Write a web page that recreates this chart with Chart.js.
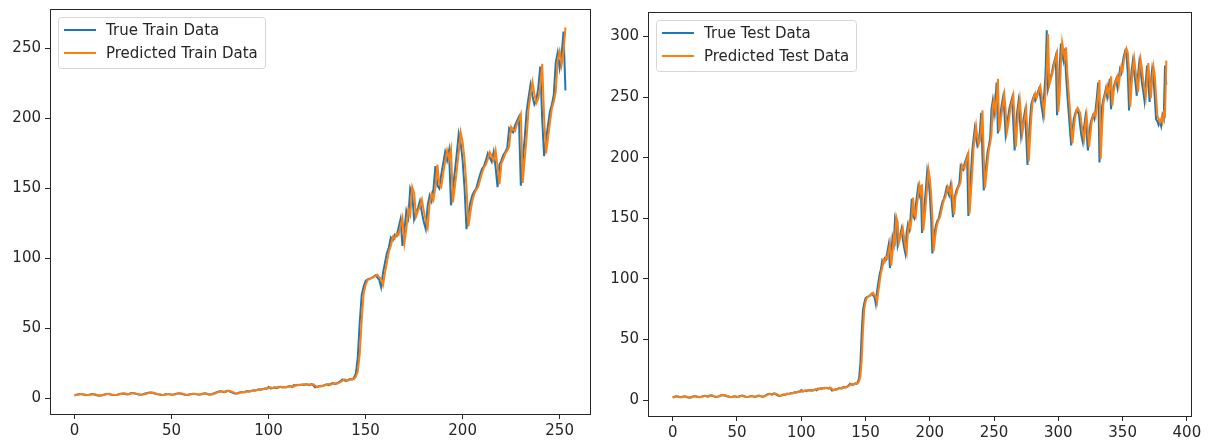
<!DOCTYPE html>
<html>
<head>
<meta charset="utf-8">
<script src="https://cdn.jsdelivr.net/npm/chart.js@4.4.1/dist/chart.umd.min.js"></script>
<style>
    html, body { margin: 0; padding: 0; background: #fff; }
    canvas { position: absolute; top: 0; }
    #trainCanvas { left: 0; }
    #testCanvas { left: 604px; }
</style>
</head>
<body>
<canvas id="trainCanvas" width="604" height="442"></canvas>
<canvas id="testCanvas" width="604" height="442"></canvas>
<script>
// flat start, index 0..145
const TRUE_FLAT = [
    2.4, 2.8, 3.1, 3.3, 3.0, 2.7, 2.5, 2.6, 2.9, 3.2,
    3.0, 2.6, 2.2, 2.1, 2.4, 2.8, 3.2, 3.4, 3.1, 2.8,
    2.6, 2.5, 2.8, 3.2, 3.5, 3.7, 3.4, 3.0, 3.3, 3.9,
    4.0, 3.6, 3.2, 2.9, 2.7, 3.0, 3.4, 3.8, 4.1, 4.3,
    4.2, 3.7, 3.3, 3.0, 2.8, 2.5, 2.7, 3.1, 3.3, 3.0,
    2.7, 2.9, 3.3, 3.6, 3.8, 3.5, 3.1, 2.8, 2.6, 2.9,
    3.2, 3.5, 3.3, 3.0, 2.8, 3.1, 3.5, 3.8, 3.4, 3.0,
    2.9, 3.3, 3.8, 4.4, 4.9, 5.3, 5.0, 4.6, 5.2, 5.6,
    5.1, 4.5, 3.9, 3.5, 3.8, 4.3, 4.7, 4.4, 4.9, 5.4,
    5.0, 5.5, 6.0, 5.7, 6.2, 6.6, 6.3, 6.9, 7.2, 7.0,
    8.3, 7.2, 7.6, 8.0, 7.5, 8.1, 8.4, 7.9, 8.3, 8.0,
    8.6, 9.0, 8.2, 9.6, 9.3, 9.8, 9.5, 10.1, 9.7, 10.2,
    10.0, 9.6, 10.3, 9.4, 8.0, 8.4, 9.0, 8.7, 9.3, 9.8,
    10.2, 9.6, 10.5, 11.0, 10.4, 10.8, 11.5, 12.3, 13.6, 13.0,
    12.6, 13.4, 14.0, 13.5, 15.0, 18.0,
];

// jump and climb, index 146..253 (end of train set)
const TRUE_RISE = [
    30, 55, 74, 80,
    84, 85, 85.5, 86, 87, 88, 86.5, 85, 79.5, 90,
    97, 104, 108, 115, 113, 117, 116, 122, 128, 109,
    120, 134, 129, 150, 146, 128, 133, 136, 141, 133,
    126, 121, 138, 145, 141, 150, 166, 152, 150, 160,
    168, 176, 170, 177, 138, 150, 162, 175, 189, 182,
    170, 150, 121, 132, 140, 145, 148, 150, 155, 160,
    164, 166, 170, 175, 172, 169, 176, 165, 151, 167,
    170, 174, 176, 179, 193, 191, 190, 195, 198, 201,
    152, 170, 186, 205, 215, 224, 216, 210, 213, 222,
    237, 200, 173, 185, 195, 205, 210, 217, 240, 247,
    236, 245, 262, 220,
];

// test only, index 254..384
const TRUE_TAIL = [
    228, 236, 244, 250, 238, 219, 226, 234, 241, 245,
    249, 228, 206, 225, 238, 246, 232, 218, 226, 232,
    238, 218, 194, 215, 232, 244, 248, 251, 247, 250,
    254, 257, 250, 242, 235, 252, 268, 305, 257, 262,
    266, 270, 276, 280, 284, 235, 250, 275, 294, 285,
    280, 290, 268, 252, 238, 224, 210, 222, 232, 236,
    239, 238, 236, 226, 218, 213, 225, 233, 220, 206,
    218, 228, 232, 235, 232, 240, 250, 262, 196, 222,
    242, 248, 252, 257, 250, 256, 265, 240, 252, 258,
    262, 265, 258, 266, 273, 270, 278, 284, 288, 285,
    270, 239, 258, 272, 280, 270, 262, 251, 268, 279,
    272, 262, 255, 247, 262, 276, 262, 246, 262, 273,
    266, 250, 232, 230, 227, 230, 226, 235, 232, 276,
    260,
];

const PRED_FLAT = [
    2.3, 2.5, 2.9, 3.2, 3.3, 3.0, 2.7, 2.5, 2.7, 3.0,
    3.2, 2.9, 2.5, 2.2, 2.2, 2.5, 2.9, 3.3, 3.4, 3.0,
    2.8, 2.6, 2.6, 2.9, 3.3, 3.6, 3.7, 3.3, 3.1, 3.4,
    3.9, 3.9, 3.5, 3.2, 2.9, 2.8, 3.1, 3.5, 3.9, 4.2,
    4.3, 4.1, 3.6, 3.2, 3.0, 2.7, 2.6, 2.9, 3.2, 3.2,
    2.9, 2.8, 3.0, 3.4, 3.7, 3.7, 3.4, 3.0, 2.7, 2.7,
    3.0, 3.3, 3.5, 3.2, 2.9, 3.0, 3.3, 3.7, 3.7, 3.2,
    3.0, 3.0, 3.5, 4.0, 4.6, 5.0, 5.3, 4.9, 4.8, 5.4,
    5.6, 5.0, 4.4, 3.8, 3.6, 4.0, 4.5, 4.7, 4.6, 5.1,
    5.4, 5.2, 5.7, 6.0, 5.9, 6.4, 6.6, 6.5, 7.1, 7.3,
    7.3, 8.0, 7.4, 7.8, 8.1, 7.7, 8.2, 8.4, 8.1, 8.4,
    8.2, 8.8, 9.0, 8.6, 9.6, 9.5, 9.9, 9.7, 10.2, 9.9,
    10.3, 10.1, 9.8, 10.3, 9.2, 8.3, 8.6, 9.1, 8.9, 9.5,
    9.9, 10.3, 9.8, 10.6, 11.0, 10.6, 11.0, 11.7, 12.6, 13.7,
    13.3, 12.9, 13.6, 14.2, 13.9, 15.6,
];

const PRED_RISE = [
    19.5, 32, 56, 75,
    81, 84.5, 85.5, 86, 86.5, 87.5, 88.5, 86.5, 85.5, 81,
    90, 97.5, 105, 109, 115.5, 114, 118, 117, 123, 129,
    111, 121, 135, 131, 151, 147, 130, 134, 137, 142,
    134, 127, 122, 139, 146, 142, 151, 167, 153, 151,
    161, 169, 177, 171, 178, 140, 151, 163, 176, 190,
    183, 171, 151, 123, 133, 141, 146, 149, 151, 156,
    161, 165, 167, 171, 176, 173, 170, 177, 166, 153,
    168, 171, 175, 177, 180, 194, 192, 191, 196, 199,
    203, 154, 171, 187, 207, 217, 226, 217, 211, 214,
    223, 239, 201, 175, 186, 197, 207, 212, 219, 242,
    248, 238, 247, 265,
];

const PRED_TAIL = [
    222, 229, 237, 245, 252, 239, 221, 227, 235, 242,
    246, 251, 230, 209, 226, 240, 248, 234, 220, 227,
    233, 240, 220, 197, 216, 234, 246, 250, 253, 249,
    252, 256, 259, 252, 244, 237, 254, 270, 302, 260,
    264, 268, 272, 278, 282, 286, 238, 252, 277, 295,
    288, 282, 291, 270, 254, 240, 226, 212, 224, 233,
    238, 241, 239, 237, 228, 220, 215, 227, 235, 222,
    209, 220, 230, 234, 237, 234, 242, 252, 264, 199,
    224, 244, 250, 254, 259, 252, 258, 267, 243, 254,
    260, 264, 267, 260, 268, 275, 272, 280, 286, 290,
    287, 272, 242, 260, 274, 282, 272, 264, 254, 270,
    281, 274, 264, 257, 250, 264, 278, 264, 249, 264,
    275, 268, 252, 235, 232, 229, 232, 229, 237, 235,
    280,
];

const TRAIN_X_TICKS = [0, 50, 100, 150, 200, 250];
const TRAIN_Y_TICKS = [0, 50, 100, 150, 200, 250];
const TEST_X_TICKS = [0, 50, 100, 150, 200, 250, 300, 350, 400];
const TEST_Y_TICKS = [0, 50, 100, 150, 200, 250, 300];

const BLUE = '#1f77b4';
const ORANGE = '#ff7f0e';
const AXIS_COLOR = '#262626';
const TEXT_COLOR = '#262626';
const FONT_FAMILY = '"DejaVu Sans", sans-serif';
const FONT_SIZE = 15;

const toPoints = (values) => values.map((y, x) => ({ x, y }));

// matplotlib draws a full box round the axes
const framePlugin = {
    id: 'axesFrame',
    afterDatasetsDraw(chart) {
        const { ctx, chartArea: a } = chart;
        ctx.save();
        ctx.strokeStyle = AXIS_COLOR;
        ctx.lineWidth = 1;
        ctx.strokeRect(Math.round(a.left) + 0.5, Math.round(a.top) + 0.5, Math.round(a.right - a.left), Math.round(a.bottom - a.top));
        ctx.restore();
    },
};

const innerLegendPlugin = {
    id: 'innerLegend',
    afterDraw(chart) {
        const { ctx, chartArea: a } = chart;
        const sets = chart.data.datasets;
        ctx.save();
        ctx.font = `${FONT_SIZE}px ${FONT_FAMILY}`;
        const textWidth = Math.max(...sets.map((d) => ctx.measureText(d.label).width));
        const x = Math.round(a.left) + 8;
        const y = Math.round(a.top) + 8;
        const w = Math.round(48 + textWidth + 7);
        const h = 51;

        ctx.beginPath();
        if (ctx.roundRect) ctx.roundRect(x + 0.5, y + 0.5, w, h, 3);
        else ctx.rect(x + 0.5, y + 0.5, w, h);
        ctx.fillStyle = 'rgba(255,255,255,0.85)';
        ctx.fill();
        ctx.strokeStyle = '#d6d6d6';
        ctx.lineWidth = 1;
        ctx.stroke();

        sets.forEach((d, i) => {
            const cy = y + 13 + i * 23;
            ctx.beginPath();
            ctx.moveTo(x + 6, cy);
            ctx.lineTo(x + 38, cy);
            ctx.strokeStyle = d.borderColor;
            ctx.lineWidth = 2;
            ctx.stroke();
            ctx.fillStyle = TEXT_COLOR;
            ctx.textBaseline = 'middle';
            ctx.fillText(d.label, x + 48, cy + 1);
        });
        ctx.restore();
    },
};

const axisOptions = ({ min, max, ticks, fitSize, vertical }) => ({
    type: 'linear',
    min,
    max,
    afterBuildTicks: (axis) => {
        axis.ticks = ticks.map((value) => ({ value }));
    },
    afterFit: (axis) => {
        // fixed axis size, no label overhang padding: keeps the plot box where the reference has it
        if (vertical) axis.width = fitSize;
        else axis.height = fitSize;
        axis.paddingTop = 0;
        axis.paddingBottom = 0;
        axis.paddingLeft = 0;
        axis.paddingRight = 0;
    },
    ticks: {
        color: TEXT_COLOR,
        font: { family: FONT_FAMILY, size: FONT_SIZE },
        padding: vertical ? 4 : 3,
        autoSkip: false,
        maxRotation: 0,
    },
    grid: { drawOnChartArea: false, drawTicks: true, tickLength: 5, color: AXIS_COLOR },
    border: { display: true, color: AXIS_COLOR, width: 1 },
});

const createPanel = (canvas, { trueLabel, predLabel, trueValues, predValues, xRange, yRange, xTicks, yTicks, yAxisWidth, xAxisHeight, padding }) => new Chart(canvas, {
    type: 'line',
    data: {
        datasets: [
            { label: trueLabel, data: toPoints(trueValues), borderColor: BLUE, borderWidth: 2, pointRadius: 0, tension: 0, fill: false, order: 1 },
            { label: predLabel, data: toPoints(predValues), borderColor: ORANGE, borderWidth: 2, pointRadius: 0, tension: 0, fill: false, order: 0 },
        ],
    },
    options: {
        responsive: false,
        animation: false,
        events: [],
        layout: { padding },
        scales: {
            x: axisOptions({ min: xRange[0], max: xRange[1], ticks: xTicks, fitSize: xAxisHeight, vertical: false }),
            y: axisOptions({ min: yRange[0], max: yRange[1], ticks: yTicks, fitSize: yAxisWidth, vertical: true }),
        },
        plugins: {
            legend: { display: false },
            tooltip: { enabled: false },
        },
    },
    plugins: [framePlugin, innerLegendPlugin],
});

createPanel(document.getElementById('trainCanvas'), {
    trueLabel: 'True Train Data',
    predLabel: 'Predicted Train Data',
    trueValues: [...TRUE_FLAT, ...TRUE_RISE],
    predValues: [...PRED_FLAT, ...PRED_RISE],
    xRange: [-12.65, 265.65],
    yRange: [-11.0, 278.1],
    xTicks: TRAIN_X_TICKS,
    yTicks: TRAIN_Y_TICKS,
    yAxisWidth: 50,
    xAxisHeight: 28,
    padding: { left: 0, right: 14, top: 9, bottom: 0 },
});

createPanel(document.getElementById('testCanvas'), {
    trueLabel: 'True Test Data',
    predLabel: 'Predicted Test Data',
    trueValues: [...TRUE_FLAT, ...TRUE_RISE, ...TRUE_TAIL],
    predValues: [...PRED_FLAT, ...PRED_RISE, ...PRED_TAIL],
    xRange: [-19.2, 403.2],
    yRange: [-13.0, 320.1],
    xTicks: TEST_X_TICKS,
    yTicks: TEST_Y_TICKS,
    yAxisWidth: 44,
    xAxisHeight: 26,
    padding: { left: 0, right: 17, top: 12, bottom: 0 },
});
</script>
</body>
</html>
